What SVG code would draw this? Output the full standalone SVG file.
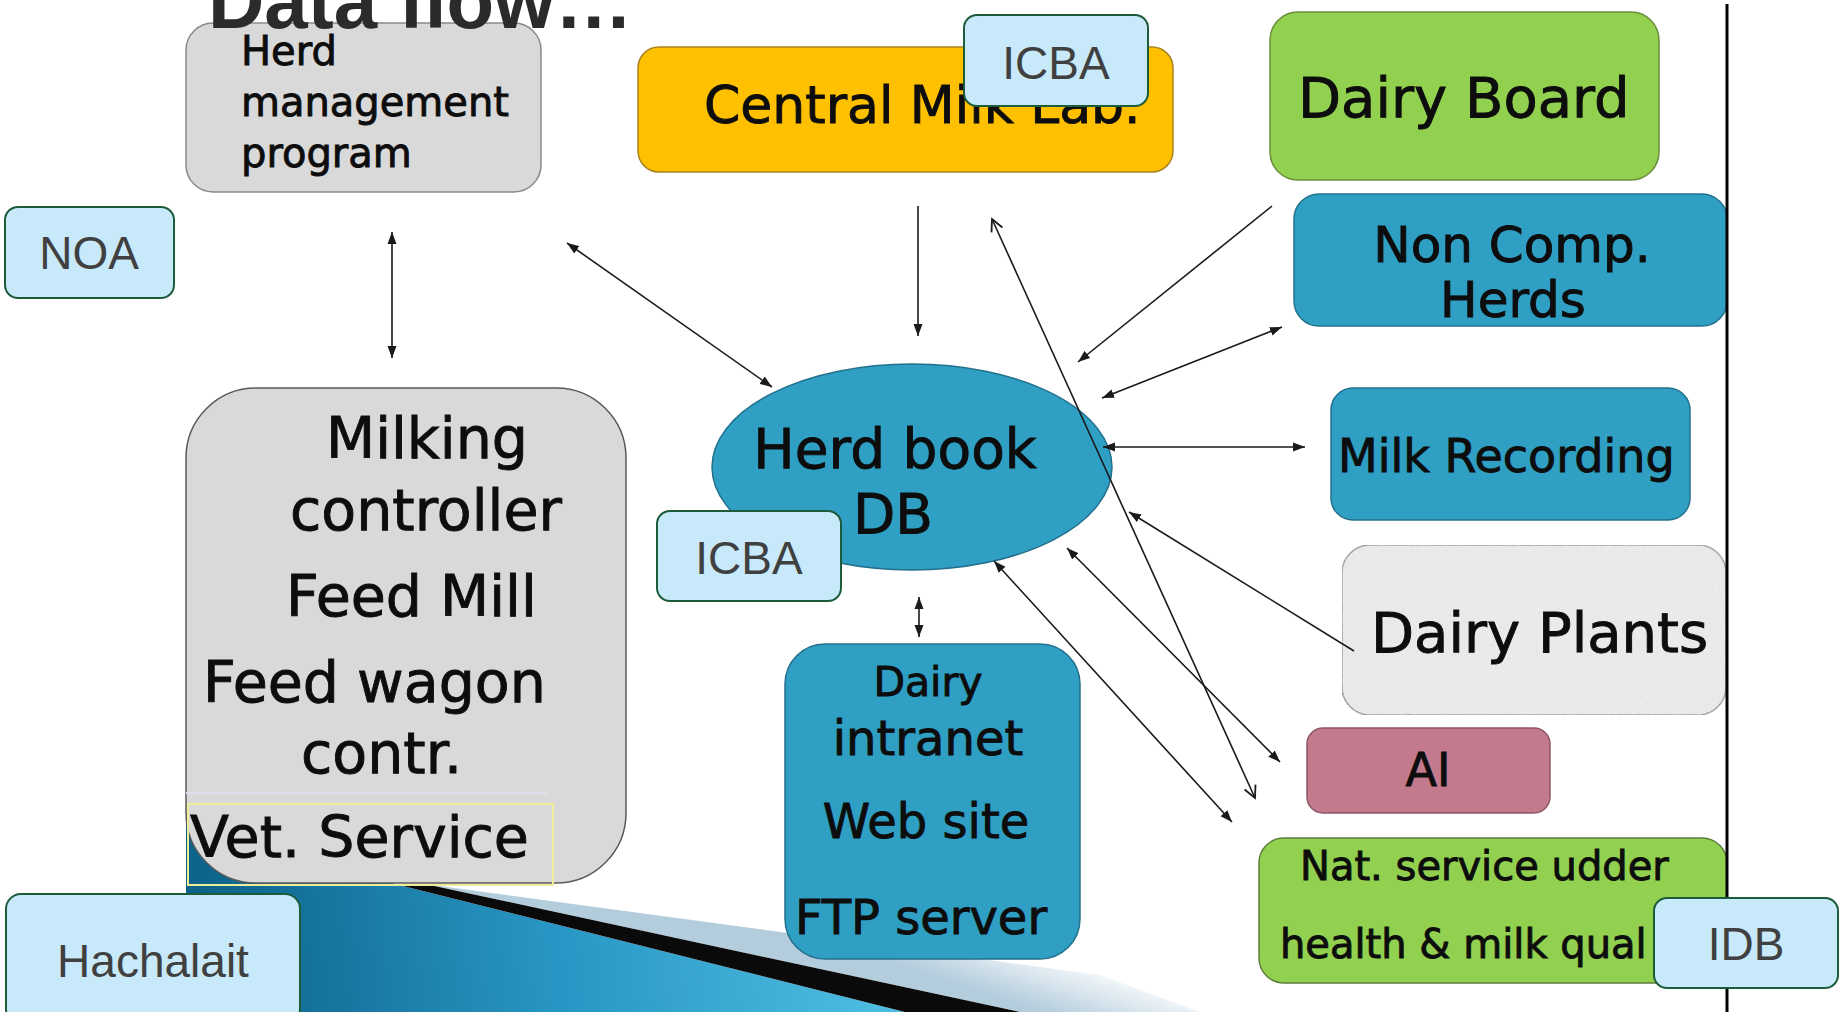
<svg xmlns="http://www.w3.org/2000/svg" width="1845" height="1012" viewBox="0 0 1845 1012">
<defs>
<style>
.t{font-family:"DejaVu Sans","Liberation Sans",sans-serif;fill:#0d0d0d;stroke:#0d0d0d;stroke-width:0.9}
.lbl{font-family:"Liberation Sans",Arial,sans-serif;font-size:46px;fill:#404040;text-anchor:middle}
.lb{fill:#c7e9f9;stroke:#1d5c3a;stroke-width:2}
.ln{stroke:#1a1a1a;stroke-width:1.6;fill:none}
.teal{fill:#2f9fc4;stroke:#24708c;stroke-width:1.5}
.mid{text-anchor:middle}
</style>
<marker id="ah" markerUnits="userSpaceOnUse" markerWidth="13" markerHeight="10" refX="12" refY="5" orient="auto-start-reverse">
<path d="M0,0.5 L12,5 L0,9.5 z" fill="#1a1a1a"/>
</marker>
<marker id="ov" markerUnits="userSpaceOnUse" markerWidth="16" markerHeight="14" refX="13" refY="7" orient="auto-start-reverse">
<path d="M1,1 L13,7 L1,13" fill="none" stroke="#1a1a1a" stroke-width="1.8"/>
</marker>
<linearGradient id="tealg" x1="186" y1="1012" x2="860" y2="930" gradientUnits="userSpaceOnUse">
<stop offset="0" stop-color="#0b5f86"/>
<stop offset="0.55" stop-color="#2896c4"/>
<stop offset="1" stop-color="#4cbbe0"/>
</linearGradient>
<linearGradient id="lightg" x1="1040" y1="1010" x2="1060" y2="950" gradientUnits="userSpaceOnUse">
<stop offset="0" stop-color="#b4cddd"/>
<stop offset="1" stop-color="#ffffff"/>
</linearGradient>
<filter id="grain" x="0" y="0" width="100%" height="100%">
<feTurbulence type="fractalNoise" baseFrequency="0.9" numOctaves="2" seed="4" result="n"/>
<feColorMatrix in="n" type="matrix" values="0 0 0 0 0.72  0 0 0 0 0.72  0 0 0 0 0.72  0 0 0 1.4 -0.55" result="g"/>
<feComposite in="g" in2="SourceGraphic" operator="in" result="gc"/>
<feMerge><feMergeNode in="SourceGraphic"/><feMergeNode in="gc"/></feMerge>
</filter>
</defs>
<rect width="1845" height="1012" fill="#ffffff"/>

<g id="background">
<polygon points="186,760 395,884 905,1012 186,1012" fill="url(#tealg)"/>
<polygon points="425,884 1100,975 1200,1012 1020,1012" fill="url(#lightg)"/>
<polygon points="395,884 425,884 1020,1012 905,1012" fill="#0a0a0a"/>
</g>

<g id="herd-management">
<rect x="186" y="23" width="355" height="169" rx="27" fill="#d9d9d9" stroke="#8a8a8a" stroke-width="1.5"/>
<text class="t" x="241" y="65" font-size="40">Herd</text>
<text class="t" x="241" y="116" font-size="40">management</text>
<text class="t" x="241" y="167" font-size="40">program</text>
</g>

<g id="central-milk-lab">
<rect x="638" y="47" width="535" height="125" rx="21" fill="#ffc000" stroke="#a88420" stroke-width="1.5"/>
<text class="t" x="704" y="123" font-size="52">Central Milk Lab.</text>
</g>

<g id="dairy-board">
<rect x="1270" y="12" width="389" height="168" rx="28" fill="#92d050" stroke="#6a8f3c" stroke-width="1.5"/>
<text class="t" x="1298" y="117" font-size="56">Dairy Board</text>
</g>

<g id="non-comp-herds">
<rect x="1294" y="194" width="433" height="132" rx="25" class="teal"/>
<text class="t mid" x="1512" y="262" font-size="50">Non Comp.</text>
<text class="t mid" x="1513" y="317" font-size="50">Herds</text>
</g>

<g id="milking">
<rect x="186" y="388" width="440" height="495" rx="70" fill="#d9d9d9" stroke="#5a5a5a" stroke-width="1.5"/>
<line x1="186" y1="793" x2="547" y2="793" stroke="#e2dcef" stroke-width="2"/>
<rect x="188" y="804" width="365" height="81" fill="none" stroke="#eded9a" stroke-width="2"/>
<text class="t" x="326" y="458" font-size="57">Milking</text>
<text class="t" x="290" y="530" font-size="57">controller</text>
<text class="t" x="286" y="616" font-size="57">Feed Mill</text>
<text class="t" x="203" y="702" font-size="57">Feed wagon</text>
<text class="t" x="301" y="773" font-size="57">contr.</text>
<text class="t" x="190" y="857" font-size="57">Vet. Service</text>
</g>

<g id="herd-book-db">
<ellipse cx="912" cy="467" rx="200" ry="103" class="teal"/>
<text class="t mid" x="895" y="468" font-size="55">Herd book</text>
<text class="t mid" x="893" y="533" font-size="55">DB</text>
</g>

<g id="dairy-intranet">
<rect x="785" y="644" width="295" height="315" rx="40" class="teal"/>
<text class="t mid" x="928" y="696" font-size="41">Dairy</text>
<text class="t mid" x="928" y="755" font-size="48">intranet</text>
<text class="t mid" x="926" y="838" font-size="48">Web site</text>
<text class="t mid" x="921" y="934" font-size="48">FTP server</text>
</g>

<g id="milk-recording">
<rect x="1331" y="388" width="359" height="132" rx="22" class="teal"/>
<text class="t" x="1338" y="472" font-size="46">Milk Recording</text>
</g>

<g id="dairy-plants">
<rect x="1342" y="545" width="384" height="170" rx="28" fill="#ececec" stroke="#9a9a9a" stroke-width="1.5" filter="url(#grain)"/>
<text class="t" x="1371" y="652" font-size="56">Dairy Plants</text>
</g>

<g id="ai">
<rect x="1307" y="728" width="243" height="85" rx="16" fill="#c27a8c" stroke="#8e5566" stroke-width="1.5"/>
<text class="t mid" x="1428" y="786" font-size="46">AI</text>
</g>

<g id="nat-service">
<rect x="1259" y="838" width="468" height="145" rx="25" fill="#92d050" stroke="#5e7e3a" stroke-width="1.5"/>
<text class="t" x="1300" y="880" font-size="40">Nat. service udder</text>
<text class="t" x="1280" y="958" font-size="40">health &amp; milk qual</text>
</g>

<g id="connectors">
<line class="ln" x1="392" y1="232" x2="392" y2="358" marker-start="url(#ah)" marker-end="url(#ah)"/>
<line class="ln" x1="567" y1="243" x2="772" y2="387" marker-start="url(#ah)" marker-end="url(#ah)"/>
<line class="ln" x1="918" y1="206" x2="918" y2="336" marker-end="url(#ah)"/>
<line class="ln" x1="992" y1="219" x2="1255" y2="798" marker-start="url(#ov)" marker-end="url(#ov)"/>
<line class="ln" x1="1272" y1="206" x2="1078" y2="362" marker-end="url(#ah)"/>
<line class="ln" x1="1282" y1="327" x2="1102" y2="398" marker-start="url(#ah)" marker-end="url(#ah)"/>
<line class="ln" x1="1103" y1="447" x2="1305" y2="447" marker-start="url(#ah)" marker-end="url(#ah)"/>
<line class="ln" x1="1354" y1="651" x2="1129" y2="512" marker-end="url(#ah)"/>
<line class="ln" x1="1067" y1="548" x2="1280" y2="762" marker-start="url(#ah)" marker-end="url(#ah)"/>
<line class="ln" x1="994" y1="561" x2="1232" y2="822" marker-start="url(#ah)" marker-end="url(#ah)"/>
<line class="ln" x1="919" y1="597" x2="919" y2="637" stroke-width="2.5" marker-start="url(#ah)" marker-end="url(#ah)"/>
</g>

<line id="right-rule" x1="1727" y1="4" x2="1727" y2="1012" stroke="#000" stroke-width="3"/>

<text id="title" x="208" y="28" font-family="'Liberation Sans',Arial,sans-serif" font-weight="bold" font-size="78" fill="#2b2b2b">Data flow…</text>

<g id="label-icba-top">
<rect class="lb" x="964" y="15" width="184" height="91" rx="13"/>
<text class="lbl" x="1056" y="79">ICBA</text>
</g>
<g id="label-noa">
<rect class="lb" x="5" y="207" width="169" height="91" rx="13"/>
<text class="lbl" x="89" y="269">NOA</text>
</g>
<g id="label-icba-mid">
<rect class="lb" x="657" y="511" width="184" height="90" rx="13"/>
<text class="lbl" x="749" y="574">ICBA</text>
</g>
<g id="label-hachalait">
<rect class="lb" x="6" y="894" width="294" height="130" rx="15"/>
<text class="lbl" x="153" y="977">Hachalait</text>
</g>
<g id="label-idb">
<rect class="lb" x="1654" y="898" width="184" height="90" rx="13"/>
<text class="lbl" x="1746" y="960">IDB</text>
</g>
</svg>
